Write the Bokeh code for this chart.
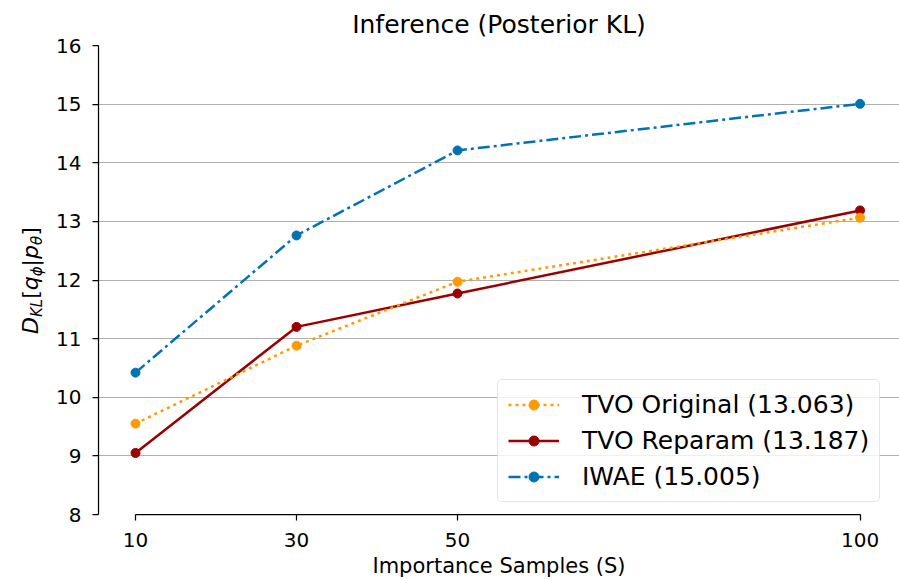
from bokeh.plotting import figure
from bokeh.layouts import row
from bokeh.models import FixedTicker, Legend, LegendItem, Range1d, Div
from bokeh.embed import file_html
from bokeh.resources import INLINE

# ---- data ----
samples = [10, 30, 50, 100]
tvo_original = [9.55, 10.88, 11.97, 13.063]
tvo_reparam = [9.05, 11.20, 11.77, 13.187]
iwae = [10.42, 12.76, 14.21, 15.005]
series_labels = ["TVO Original (13.063)", "TVO Reparam (13.187)", "IWAE (15.005)"]
x_ticks = [10, 30, 50, 100]
y_ticks = [8, 9, 10, 11, 12, 13, 14, 15, 16]
title_text = "Inference (Posterior KL)"
x_label = "Importance Samples (S)"

FONT = "DejaVu Sans"
C_ORANGE = "#ff9a00"
C_RED = "#990000"
C_BLUE = "#0173b2"

H = 580
LW = 50            # width of the strip that holds the y-axis label
W = 899 - LW
BL, BT, BB, BR = 48, 45, 66, 0

p = figure(width=W, height=H, output_backend="svg", toolbar_location=None,
           x_range=Range1d(5.404, 104.9), y_range=Range1d(8, 16),
           min_border_left=BL, min_border_right=BR, min_border_top=BT, min_border_bottom=BB)
p.outline_line_color = None
p.background_fill_color = "white"
p.border_fill_color = "white"
p.margin = 0

p.title.text = title_text
p.title.align = "center"
p.title.text_font = FONT
p.title.text_font_size = "25px"
p.title.text_font_style = "normal"
p.title.text_color = "black"
p.title.standoff = 14

# lines
r_red = p.line(samples, tvo_reparam, line_color=C_RED, line_width=2.5)
s_red = p.scatter(samples, tvo_reparam, size=9, fill_color=C_RED, line_color=C_RED)
r_or = p.line(samples, tvo_original, line_color=C_ORANGE, line_width=2.5, line_dash="3 4")
s_or = p.scatter(samples, tvo_original, size=9, fill_color=C_ORANGE, line_color=C_ORANGE)
r_bl = p.line(samples, iwae, line_color=C_BLUE, line_width=2.5, line_dash="12 4 3 4")
s_bl = p.scatter(samples, iwae, size=9, fill_color=C_BLUE, line_color=C_BLUE)

# axes
p.xaxis.ticker = FixedTicker(ticks=x_ticks)
p.yaxis.ticker = FixedTicker(ticks=y_ticks)
p.xaxis.bounds = (10, 100)
p.yaxis.bounds = (8, 16)
for ax in (p.xaxis[0], p.yaxis[0]):
    ax.axis_line_color = "black"
    ax.axis_line_width = 1.25
    ax.major_tick_line_color = "black"
    ax.major_tick_line_width = 1.25
    ax.major_tick_out = 6
    ax.major_tick_in = 0
    ax.minor_tick_line_color = None
    ax.major_label_text_font = FONT
    ax.major_label_text_font_size = "20px"
    ax.major_label_text_color = "black"
p.xaxis.major_label_standoff = 12
p.yaxis.major_label_standoff = 11
p.xaxis.axis_label = x_label
p.xaxis.axis_label_text_font = FONT
p.xaxis.axis_label_text_font_size = "21px"
p.xaxis.axis_label_text_font_style = "normal"
p.xaxis.axis_label_text_color = "black"
p.xaxis.axis_label_standoff = 4

p.xgrid.visible = False
p.ygrid.grid_line_color = "#b0b0b0"
p.ygrid.grid_line_width = 1

legend = Legend(items=[LegendItem(label=series_labels[0], renderers=[r_or, s_or]),
                       LegendItem(label=series_labels[1], renderers=[r_red, s_red]),
                       LegendItem(label=series_labels[2], renderers=[r_bl, s_bl])],
                location=(399, 12))
legend.label_text_font = FONT
legend.label_text_font_size = "25px"
legend.label_text_color = "black"
legend.glyph_width = 51
legend.glyph_height = 25
legend.label_height = 25
legend.label_standoff = 23
legend.padding = 10
legend.spacing = 7
legend.margin = 0
legend.border_line_color = "#cccccc"
legend.border_line_width = 1
legend.border_radius = 5
legend.background_fill_color = "white"
legend.background_fill_alpha = 0.8
p.add_layout(legend)

# ---- y-axis label: D_KL[q_phi | p_theta], rotated HTML text in a narrow strip ----
sub_style = "font-size:15px;vertical-align:-4px;line-height:0;"
y_label_html = (
    '<div style="position:relative;width:%dpx;height:%dpx;">'
    '<div style="position:absolute;left:20px;top:334px;transform-origin:0 0;'
    'transform:rotate(-90deg);white-space:nowrap;font-family:\'DejaVu Sans\';'
    'font-size:22px;line-height:22px;color:#000;">'
    '<i>D</i><sub style="%s"><i>KL</i></sub>[<i>q</i><sub style="%s"><i>ϕ</i></sub>|'
    '<i>p</i><sub style="%s"><i>θ</i></sub>]'
    '</div></div>' % (LW, H, sub_style, sub_style, sub_style)
)
ylab = Div(text=y_label_html, width=LW, height=H, margin=0)

layout = row(ylab, p, spacing=0)
open("out.html", "w").write(file_html(layout, INLINE))
